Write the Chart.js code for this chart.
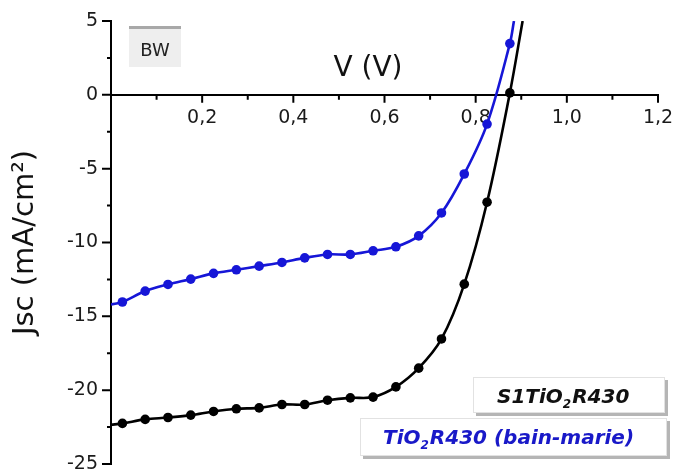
<!DOCTYPE html>
<html lang="fr">
<head>
<meta charset="UTF-8">
<title>J-V curves</title>
<script src="https://cdn.jsdelivr.net/npm/chart.js"></script>
<style>
    * { margin: 0; padding: 0; }
    body { background: #fff; }
    #jv { display: block; }
</style>
</head>
<body>
<canvas id="jv" width="673" height="470"></canvas>
<script>
    // S1TiO2R430 (black)
    const vBlack = [0, 0.025, 0.075, 0.125, 0.175, 0.225, 0.275, 0.325, 0.375, 0.425, 0.475,
                    0.525, 0.575, 0.625, 0.675, 0.725, 0.775, 0.825, 0.875, 0.903];
    const jBlack = [-22.35, -22.25, -21.98, -21.85, -21.69, -21.44, -21.26, -21.2, -20.97, -20.97, -20.68,
                    -20.52, -20.47, -19.78, -18.51, -16.53, -12.82, -7.27, 0.13, 5];

    // TiO2R430 (bain-marie) (blue)
    const vBlue = [0, 0.025, 0.075, 0.125, 0.175, 0.225, 0.275, 0.325, 0.375, 0.425, 0.475,
                   0.525, 0.575, 0.625, 0.675, 0.725, 0.775, 0.825, 0.875, 0.884];
    const jBlue = [-14.2, -14.03, -13.29, -12.84, -12.48, -12.09, -11.85, -11.6, -11.35, -11.04, -10.81,
                   -10.81, -10.56, -10.29, -9.55, -8.0, -5.36, -1.98, 3.47, 5];

    const xTicks = [0.2, 0.4, 0.6, 0.8, 1.0, 1.2];
    const yTicks = [-25, -20, -15, -10, -5, 0, 5];

    const BLUE = 'rgb(22, 22, 215)';
    const FONT = '"DejaVu Sans", Verdana, sans-serif';

    function toPoints(xs, ys) {
        return xs.map((x, i) => ({ x: x, y: ys[i] }));
    }
    // ends of the curves carry no marker
    function radii(n) {
        return Array.from({ length: n }, (_, i) => (i === 0 || i === n - 1) ? 0 : 4.8);
    }
    function noPad(s) {
        s.paddingLeft = 0; s.paddingRight = 0; s.paddingTop = 0; s.paddingBottom = 0;
    }

    // text pieces: [string, isSubscript]
    function drawRich(c, parts, x, y, size) {
        parts.forEach(([t, sub]) => {
            c.font = 'italic bold ' + (sub ? Math.round(size * 0.62) : size) + 'px ' + FONT;
            c.fillText(t, x, sub ? y + 5 : y);
            x += c.measureText(t).width + (sub ? 1 : 0);
        });
    }

    // minor/major tick marks, axis title, BW tag and the two legend boxes
    const decor = {
        id: 'decor',
        afterDraw(chart) {
            const c = chart.ctx;
            const xs = chart.scales.x, ys = chart.scales.y;
            const x0 = xs.getPixelForValue(0);
            const y0 = ys.getPixelForValue(0);
            c.save();
            c.strokeStyle = '#000';
            c.lineWidth = 2;
            c.beginPath();
            for (let k = -10; k <= 2; k++) {
                const py = ys.getPixelForValue(k * 2.5);
                const len = (k % 2 === 0) ? 9 : 4;
                c.moveTo(x0 - len, py);
                c.lineTo(x0, py);
            }
            for (let k = 1; k <= 12; k++) {
                const px = xs.getPixelForValue(k / 10);
                const len = (k % 2 === 0) ? 8 : 5;
                c.moveTo(px, y0);
                c.lineTo(px, y0 + len);
            }
            c.stroke();

            // x title sits above the axis
            c.fillStyle = '#111';
            c.font = '28px ' + FONT;
            c.textAlign = 'center';
            c.textBaseline = 'alphabetic';
            c.fillText('V (V)', 368, 76);

            // BW tag
            c.fillStyle = '#eeeeee';
            c.fillRect(129, 27, 52, 40);
            c.fillStyle = '#a8a8a8';
            c.fillRect(129, 26, 52, 3);
            c.fillStyle = '#222';
            c.font = '18px ' + FONT;
            c.fillText('BW', 155, 56);

            // legend boxes
            c.textAlign = 'left';
            const boxes = [
                { x: 473, y: 377, w: 192, h: 36, parts: [['S1TiO', 0], ['2', 1], ['R430', 0]], tx: 497, ty: 403, color: '#111' },
                { x: 360, y: 418, w: 307, h: 38, parts: [['TiO', 0], ['2', 1], ['R430 (bain-marie)', 0]], tx: 383, ty: 444, color: 'rgb(25, 25, 200)' }
            ];
            boxes.forEach(b => {
                c.fillStyle = '#b5b5b5';
                c.fillRect(b.x + 3, b.y + 3, b.w, b.h);
                c.fillStyle = '#fff';
                c.fillRect(b.x, b.y, b.w, b.h);
                c.strokeStyle = '#e2e2e2';
                c.lineWidth = 1;
                c.strokeRect(b.x + 0.5, b.y + 0.5, b.w - 1, b.h - 1);
                c.fillStyle = b.color;
                drawRich(c, b.parts, b.tx, b.ty, 20);
            });
            c.restore();
        }
    };

    new Chart(document.getElementById('jv'), {
        type: 'scatter',
        data: {
            datasets: [
                {
                    label: 'S1TiO2R430',
                    data: toPoints(vBlack, jBlack),
                    showLine: true,
                    borderColor: '#000',
                    backgroundColor: '#000',
                    borderWidth: 2.6,
                    pointRadius: radii(vBlack.length),
                    pointBorderWidth: 0,
                    tension: 0.35
                },
                {
                    label: 'TiO2R430 (bain-marie)',
                    data: toPoints(vBlue, jBlue),
                    showLine: true,
                    borderColor: BLUE,
                    backgroundColor: BLUE,
                    borderWidth: 2.6,
                    pointRadius: radii(vBlue.length),
                    pointBorderWidth: 0,
                    tension: 0.35
                }
            ]
        },
        options: {
            responsive: false,
            animation: false,
            events: [],
            layout: { padding: { left: 0, right: 15, top: 21, bottom: 6 } },
            plugins: {
                legend: { display: false },
                tooltip: { enabled: false }
            },
            scales: {
                x: {
                    type: 'linear',
                    position: { y: 0 },
                    min: 0,
                    max: 1.2,
                    afterBuildTicks: s => { s.ticks = xTicks.map(v => ({ value: v })); },
                    afterFit: s => { s.height = 0; noPad(s); },
                    grid: { display: false, drawTicks: false },
                    border: { display: true, color: '#000', width: 2 },
                    ticks: {
                        padding: 12,
                        color: '#1a1a1a',
                        font: { family: FONT, size: 19 },
                        callback: v => v.toFixed(1).replace('.', ',')
                    }
                },
                y: {
                    type: 'linear',
                    min: -25,
                    max: 5,
                    afterBuildTicks: s => { s.ticks = yTicks.map(v => ({ value: v })); },
                    afterFit: s => { s.width = 111; noPad(s); },
                    grid: { display: false, drawTicks: false },
                    border: { display: true, color: '#000', width: 2 },
                    title: {
                        display: true,
                        text: 'Jsc (mA/cm\u00b2)',
                        color: '#111',
                        font: { family: FONT, size: 29 },
                        padding: { top: 8, bottom: 4 }
                    },
                    ticks: {
                        padding: 13,
                        color: '#1a1a1a',
                        font: { family: FONT, size: 19 },
                        callback: v => String(v)
                    }
                }
            }
        },
        plugins: [decor]
    });
</script>
</body>
</html>
